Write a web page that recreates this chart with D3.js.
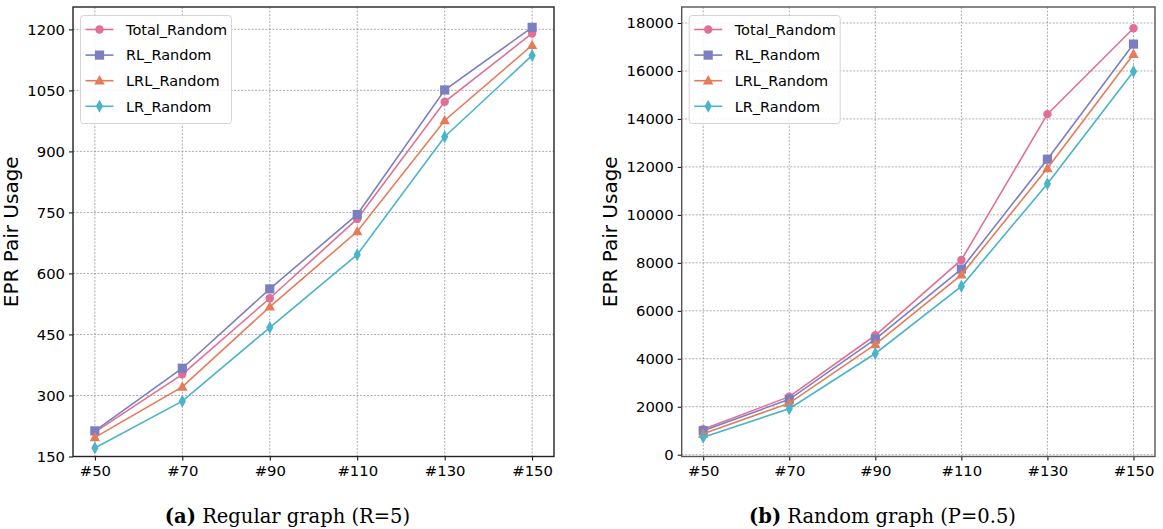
<!DOCTYPE html>
<html>
<head>
<meta charset="utf-8">
<script src="https://cdn.jsdelivr.net/npm/d3@7"></script>
<style>
  body { margin: 0; background: #fff; }
</style>
</head>
<body>
<div id="chart-area"></div>
<script>
'use strict';
const svg_width = 1163;
const svg_height = 529;

// data
const categories = ['#50', '#70', '#90', '#110', '#130', '#150'];
const series_names = ['Total_Random', 'RL_Random', 'LRL_Random', 'LR_Random'];

const regular_total = [210, 352, 539, 734, 1022, 1190];
const regular_rl = [213, 367, 562, 745, 1051, 1205];
const regular_lrl = [197, 321, 518, 703, 976, 1161];
const regular_lr = [171, 286, 467, 646, 936, 1136];

const random_total = [1060, 2420, 4980, 8120, 14200, 17780];
const random_rl = [1000, 2310, 4820, 7740, 12320, 17120];
const random_lrl = [870, 2150, 4600, 7500, 11940, 16700];
const random_lr = [730, 1920, 4220, 7020, 11300, 15980];

const regular_ticks = [150, 300, 450, 600, 750, 900, 1050, 1200];
const random_ticks = [0, 2000, 4000, 6000, 8000, 10000, 12000, 14000, 16000, 18000];

const colors = ['#df7094', '#7b7fc0', '#e57b58', '#4ab4c8'];
const markers = ['circle', 'square', 'triangle', 'diamond'];
const sans = '"DejaVu Sans", sans-serif';

const svg = d3.select('#chart-area')
  .append('svg')
    .attr('width', svg_width)
    .attr('height', svg_height)
    .attr('font-family', sans);

const draw_marker = (g, kind, x, y, color) => {
  if (kind === 'circle') {
    g.append('circle').attr('cx', x).attr('cy', y).attr('r', 4.2).attr('fill', color);
  } else if (kind === 'square') {
    g.append('rect').attr('x', x - 4.6).attr('y', y - 4.6)
      .attr('width', 9.2).attr('height', 9.2).attr('fill', color);
  } else if (kind === 'triangle') {
    g.append('path')
      .attr('d', `M${x},${y - 5.6}L${x + 5.2},${y + 3.8}L${x - 5.2},${y + 3.8}Z`)
      .attr('fill', color);
  } else {
    g.append('path')
      .attr('d', `M${x},${y - 6.5}L${x + 3.6},${y}L${x},${y + 6.5}L${x - 3.6},${y}Z`)
      .attr('fill', color);
  }
};

const draw_panel = (p) => {
  const x_scale = d3.scaleLinear()
    .domain([-0.25, categories.length - 0.75])
    .range([p.left, p.right]);
  const y_scale = d3.scaleLinear()
    .domain(p.y_domain)
    .range([p.bottom, p.top]);

  const g = svg.append('g');

  // grid
  g.append('g').selectAll('line').data(categories).enter()
    .append('line')
      .attr('x1', (d, i) => x_scale(i)).attr('x2', (d, i) => x_scale(i))
      .attr('y1', p.top).attr('y2', p.bottom)
      .attr('stroke', '#8a8a8a').attr('stroke-width', 0.7)
      .attr('stroke-dasharray', '2,1.5');
  g.append('g').selectAll('line').data(p.ticks).enter()
    .append('line')
      .attr('x1', p.left).attr('x2', p.right)
      .attr('y1', d => y_scale(d)).attr('y2', d => y_scale(d))
      .attr('stroke', '#8a8a8a').attr('stroke-width', 0.7)
      .attr('stroke-dasharray', '2,1.5');

  // series
  const line = d3.line()
    .x((d, i) => x_scale(i))
    .y(d => y_scale(d));
  p.series.forEach((values, k) => {
    g.append('path')
      .attr('d', line(values))
      .attr('fill', 'none')
      .attr('stroke', colors[k])
      .attr('stroke-width', 1.6);
    values.forEach((v, i) => draw_marker(g, markers[k], x_scale(i), y_scale(v), colors[k]));
  });

  // axes
  const x_axis = d3.axisBottom(x_scale)
    .tickValues(d3.range(categories.length))
    .tickFormat(i => categories[i])
    .tickSizeOuter(0).tickSize(4).tickPadding(5);
  const y_axis = d3.axisLeft(y_scale)
    .tickValues(p.ticks)
    .tickFormat(d3.format('d'))
    .tickSizeOuter(0).tickSize(4).tickPadding(4);

  const xa = g.append('g')
    .attr('transform', `translate(0,${p.bottom})`)
    .call(x_axis);
  const ya = g.append('g')
    .attr('transform', `translate(${p.left},0)`)
    .call(y_axis);
  [xa, ya].forEach(a => {
    a.attr('font-size', 14.8).attr('font-family', sans);
    a.select('.domain').remove();
    a.selectAll('text').attr('fill', '#000');
    a.selectAll('line').attr('stroke', '#000');
  });

  g.append('rect')
    .attr('x', p.left).attr('y', p.top)
    .attr('width', p.right - p.left).attr('height', p.bottom - p.top)
    .attr('fill', 'none')
    .attr('stroke', p.spine).attr('stroke-width', 1.4);

  // y label
  g.append('text')
    .attr('transform', `translate(${p.label_x},${(p.top + p.bottom) / 2}) rotate(-90)`)
    .attr('text-anchor', 'middle')
    .attr('font-size', 20)
    .text('EPR Pair Usage');

  // legend
  const lg = g.append('g').attr('transform', `translate(${p.left + 7.5},${p.top + 8.5})`);
  lg.append('rect')
    .attr('width', 151).attr('height', 108)
    .attr('rx', 3)
    .attr('fill', 'rgba(255,255,255,0.85)')
    .attr('stroke', '#d4d4d4').attr('stroke-width', 1);
  series_names.forEach((name, k) => {
    const cy = 14 + k * 25.6;
    lg.append('line')
      .attr('x1', 5).attr('x2', 33).attr('y1', cy).attr('y2', cy)
      .attr('stroke', colors[k]).attr('stroke-width', 1.6);
    draw_marker(lg, markers[k], 19, cy, colors[k]);
    lg.append('text')
      .attr('x', 45.5).attr('y', cy)
      .attr('dy', '0.36em')
      .attr('font-size', 14.5)
      .text(name);
  });

  // caption
  const cap = svg.append('text')
    .attr('x', p.caption_x).attr('y', 523)
    .attr('text-anchor', 'middle')
    .attr('font-family', '"DejaVu Serif", serif')
    .attr('font-size', 19.5);
  cap.append('tspan').attr('font-weight', 'bold').text(p.caption_tag);
  cap.append('tspan').text(' ' + p.caption);
};

draw_panel({
  left: 73, right: 554, top: 7, bottom: 456.5,
  y_domain: [150, 1255], ticks: regular_ticks,
  series: [regular_total, regular_rl, regular_lrl, regular_lr],
  spine: '#222', label_x: 18,
  caption_x: 287.5, caption_tag: '(a)', caption: 'Regular graph (R=5)'
});

draw_panel({
  left: 681.7, right: 1155, top: 7, bottom: 456.5,
  y_domain: [-75, 18667], ticks: random_ticks,
  series: [random_total, random_rl, random_lrl, random_lr],
  spine: '#555', label_x: 617,
  caption_x: 882.5, caption_tag: '(b)', caption: 'Random graph (P=0.5)'
});
</script>
</body>
</html>
